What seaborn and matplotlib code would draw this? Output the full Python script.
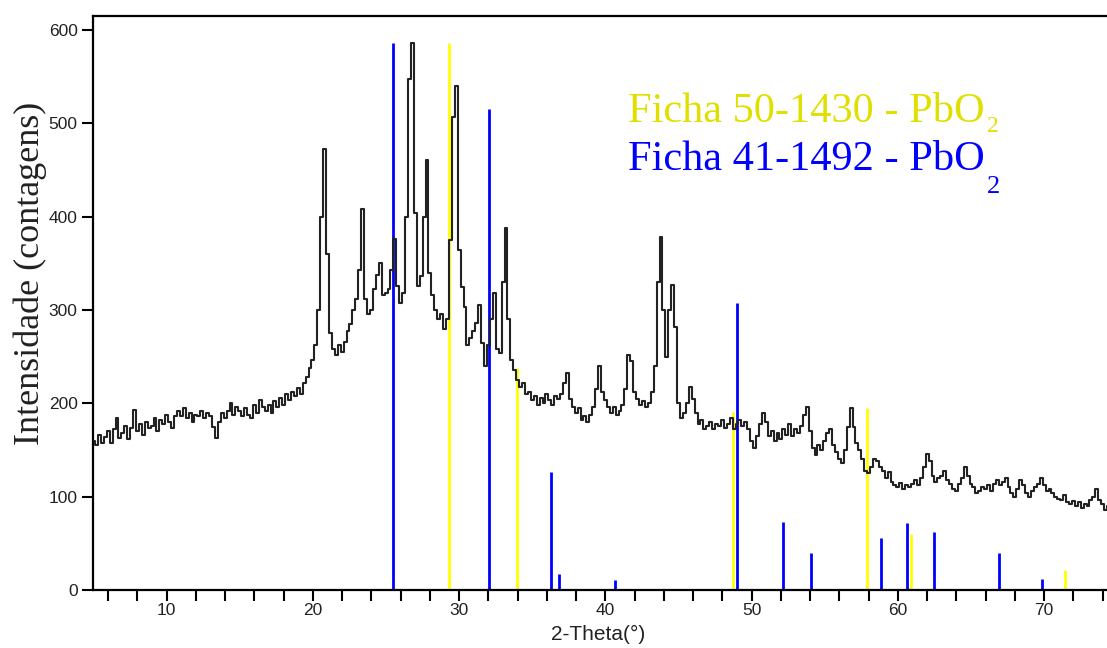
import numpy as np
import matplotlib
matplotlib.use("Agg")
import matplotlib.pyplot as plt
import seaborn as sns

# ---- data ----
theta_start = 5.0
theta_step = 0.2
counts = [
    160, 155, 166, 158, 164, 170, 158, 172, 184, 163,   # 5.0-6.8
    168, 176, 162, 174, 193, 170, 178, 166, 180, 174,   # 7.0-8.8
    176, 184, 170, 182, 178, 188, 180, 174, 186, 192,   # 9.0-10.8
    186, 195, 184, 190, 180, 188, 186, 192, 184, 190,   # 11.0-12.8
    186, 175, 163, 180, 190, 184, 192, 200, 188, 196,   # 13.0-14.8
    192, 186, 195, 188, 184, 198, 190, 204, 196, 192,   # 15.0-16.8
    198, 190, 202, 196, 206, 198, 210, 204, 212, 208,   # 17.0-18.8
    216, 210, 222, 228, 238, 246, 262, 300, 400, 472,   # 19.0-20.8
    360, 275, 258, 252, 262, 255, 266, 278, 285, 300,   # 21.0-22.8
    312, 343, 408, 312, 296, 300, 322, 338, 350, 316,   # 23.0-24.8
    318, 322, 343, 376, 326, 308, 318, 400, 548, 586,   # 25.0-26.8
    404, 326, 336, 400, 461, 340, 316, 300, 290, 296,   # 27.0-28.8
    280, 290, 375, 507, 540, 364, 325, 303, 262, 270,   # 29.0-30.8
    278, 286, 305, 265, 240, 262, 290, 318, 258, 254,   # 31.0-32.8
    330, 388, 290, 246, 236, 225, 218, 222, 210, 212,   # 33.0-34.8
    204, 208, 198, 206, 200, 210, 204, 198, 208, 205,   # 35.0-36.8
    210, 222, 232, 205, 196, 190, 195, 182, 186, 180,   # 37.0-38.8
    188, 196, 215, 240, 212, 204, 196, 190, 196, 188,   # 39.0-40.8
    192, 198, 215, 252, 245, 212, 205, 198, 202, 196,   # 41.0-42.8
    200, 212, 240, 330, 378, 300, 250, 300, 327, 282,   # 43.0-44.8
    200, 184, 190, 200, 218, 205, 190, 178, 182, 172,   # 45.0-46.8
    176, 180, 172, 178, 176, 182, 174, 178, 184, 172,   # 47.0-48.8
    178, 182, 176, 180, 172, 160, 152, 165, 178, 190,   # 49.0-50.8
    180, 165, 170, 160, 168, 162, 172, 166, 178, 165,   # 51.0-52.8
    172, 168, 176, 188, 196, 170, 152, 145, 155, 150,   # 53.0-54.8
    160, 168, 172, 155, 148, 140, 136, 150, 175, 195,   # 55.0-56.8
    175, 158, 150, 140, 128, 125, 132, 140, 138, 132,   # 57.0-58.8
    128, 120, 126, 116, 112, 110, 115, 108, 112, 110,   # 59.0-60.8
    114, 118, 112, 120, 132, 146, 138, 122, 116, 120,   # 61.0-62.8
    122, 128, 118, 114, 108, 106, 114, 120, 132, 122,   # 63.0-64.8
    114, 110, 104, 106, 110, 108, 112, 106, 114, 118,   # 65.0-66.8
    112, 116, 120, 110, 104, 100, 108, 118, 112, 104,   # 67.0-68.8
    100, 106, 110, 114, 120, 112, 106, 108, 104, 100,   # 69.0-70.8
    98, 96, 102, 94, 92, 95, 90, 94, 88, 92,            # 71.0-72.8
    90, 96, 100, 108, 96, 92, 86, 90,                   # 73.0-74.4
]
two_theta = np.round(theta_start + theta_step * np.arange(len(counts)), 1)

ref_50_1430_pos = [29.3, 33.95, 48.72, 57.88, 60.9, 71.4]
ref_50_1430_int = [586, 238, 191, 195, 60, 21]
ref_41_1492_pos = [25.48, 32.04, 36.3, 36.83, 40.65, 48.98, 52.13, 54.05, 58.83, 60.6, 62.5, 66.9, 69.84]
ref_41_1492_int = [586, 515, 126, 17, 11, 307, 73, 40, 56, 72, 62, 40, 12]

label_50 = "Ficha 50-1430 - PbO"
label_41 = "Ficha 41-1492 - PbO"
subscript = "2"
xlabel = "2-Theta(°)"
ylabel = "Intensidade (contagens)"

# ---- style ----
sns.set_theme(style="ticks")
plt.rcParams["font.family"] = ["Liberation Sans", "DejaVu Sans"]
serif = ["Liberation Serif", "DejaVu Serif"]

fig = plt.figure(figsize=(11.07, 6.48), dpi=100)
ax = fig.add_axes([0.084, 0.0895, 0.916, 0.8858])

yellow_line = "#ffff00"
yellow_text = "#e0e000"
blue = "#0000ff"

ax.vlines(ref_41_1492_pos, 0, ref_41_1492_int, colors=blue, linewidth=2.0, zorder=2)
ax.vlines(ref_50_1430_pos, 0, ref_50_1430_int, colors=yellow_line, linewidth=2.0, zorder=2)

sns.lineplot(x=two_theta, y=counts, ax=ax, color="#222222", linewidth=1.5,
             estimator=None, drawstyle="steps-mid", zorder=3)

ax.set_xlim(4.96, 74.3)
ax.set_ylim(0, 615)
ax.set_xticks([10, 20, 30, 40, 50, 60, 70])
ax.set_xticks(np.arange(6, 75, 2), minor=True)
ax.set_yticks([0, 100, 200, 300, 400, 500, 600])

for s in ["left", "top", "bottom"]:
    ax.spines[s].set_color("black")
    ax.spines[s].set_linewidth(1.6)
ax.spines["right"].set_visible(False)

ax.tick_params(axis="both", which="both", direction="out", length=8, width=1.5,
               colors="black", labelsize=12.5, labelcolor="#222222")
ax.tick_params(axis="x", which="both", pad=1.5)
ax.tick_params(axis="y", which="both", pad=3)

ax.set_xlabel(xlabel, fontsize=15, color="#222222")
ax.xaxis.set_label_coords(0.498, -0.078)
ax.xaxis.label.set_va("center")
ax.set_ylabel(ylabel, fontsize=26, family=serif, color="#222222")
ax.yaxis.set_label_coords(-0.062, 0.552)
ax.yaxis.label.set_va("center")
ax.yaxis.label.set_ha("center")

t50 = ax.text(0.5276, 0.815, label_50, transform=ax.transAxes, color=yellow_text,
              fontsize=30.5, family=serif, va="baseline", ha="left")
t41 = ax.text(0.5276, 0.732, label_41, transform=ax.transAxes, color=blue,
              fontsize=30.5, family=serif, va="baseline", ha="left")

fig.canvas.draw()
renderer = fig.canvas.get_renderer()
inv = ax.transAxes.inverted()
for t, col, y_sub, fs in [(t50, yellow_text, 0.798, 17), (t41, blue, 0.692, 19)]:
    bb = t.get_window_extent(renderer)
    xa = inv.transform((bb.x1 + 2, bb.y0))[0]
    ax.text(xa, y_sub, subscript, transform=ax.transAxes, color=col,
            fontsize=fs, family=serif, va="baseline", ha="left")

fig.savefig("out.png", dpi=100)
